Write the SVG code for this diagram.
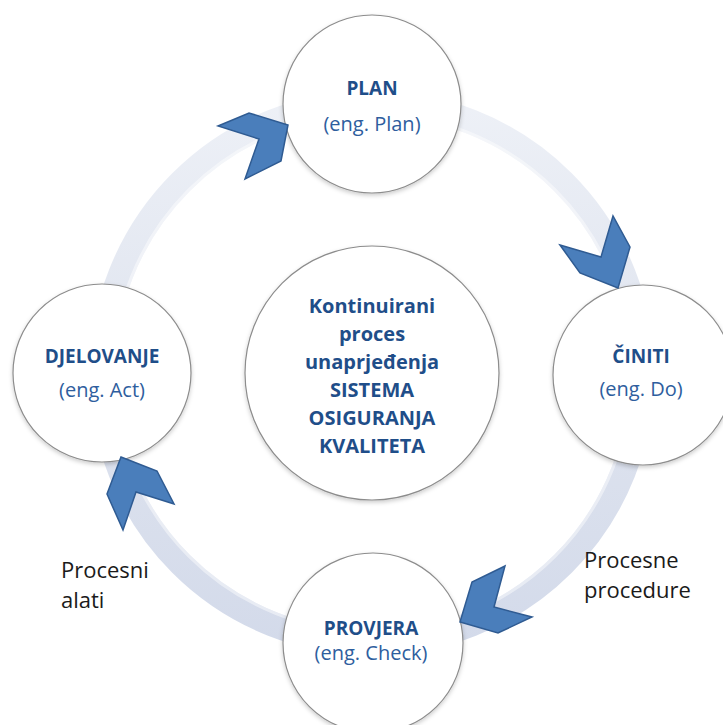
<svg xmlns="http://www.w3.org/2000/svg" width="723" height="725" viewBox="0 0 723 725">
<defs>
  <linearGradient id="ringGrad" gradientUnits="userSpaceOnUse" x1="0" y1="90" x2="0" y2="650">
    <stop offset="0" stop-color="#eef1f7"/>
    <stop offset="0.5" stop-color="#dfe4ef"/>
    <stop offset="1" stop-color="#d3daea"/>
  </linearGradient>
  <filter id="sh" x="-20%" y="-20%" width="140%" height="140%">
    <feDropShadow dx="0" dy="2" stdDeviation="2" flood-color="#000" flood-opacity="0.2"/>
  </filter>
  <style>
    .node { fill: #ffffff; stroke: #8c8c8c; stroke-width: 1.2; filter: url(#sh); }
    .t-b { font-family: "Open Sans", "Noto Sans", sans-serif; font-weight: 700; font-size: 19px; fill: #1f4e89; text-anchor: middle; }
    .t-r { font-family: "Open Sans", "Noto Sans", sans-serif; font-size: 20px; fill: #2e5e9e; text-anchor: middle; }
    .t-c { font-family: "Open Sans", "Noto Sans", sans-serif; font-weight: 700; font-size: 20px; fill: #1f4e89; text-anchor: middle; }
    .lbl { font-family: "Open Sans", "Noto Sans", sans-serif; font-size: 22px; fill: #1a1a1a; }
    .chev { fill: #4a7ebb; stroke: #2f5b92; stroke-width: 1.5; stroke-linejoin: miter; }
  </style>
</defs>
<rect width="723" height="725" fill="#ffffff"/>
<g id="connectors">
  <circle cx="372" cy="373" r="270" fill="none" stroke="url(#ringGrad)" stroke-width="25"/>
  <circle cx="372" cy="373" r="259" fill="none" stroke="#ffffff" stroke-opacity="0.45" stroke-width="3"/>
</g>
<g id="center">
  <circle class="node" cx="372" cy="373" r="127"/>
  <text class="t-c" x="372" y="313">Kontinuirani</text>
  <text class="t-c" x="372" y="341">proces</text>
  <text class="t-c" x="372" y="369">unaprjeđenja</text>
  <text class="t-c" x="372" y="397">SISTEMA</text>
  <text class="t-c" x="372" y="425">OSIGURANJA</text>
  <text class="t-c" x="372" y="453">KVALITETA</text>
</g>
<g id="plan">
  <circle class="node" cx="372" cy="104" r="89"/>
  <text class="t-b" x="372" y="95">PLAN</text>
  <text class="t-r" x="372" y="131">(eng. Plan)</text>
</g>
<g id="ciniti">
  <circle class="node" cx="643" cy="375" r="90"/>
  <text class="t-b" x="641" y="363">ČINITI</text>
  <text class="t-r" x="641" y="396">(eng. Do)</text>
</g>
<g id="provjera">
  <circle class="node" cx="373" cy="643" r="90"/>
  <text class="t-b" x="371" y="635">PROVJERA</text>
  <text class="t-r" x="371" y="660">(eng. Check)</text>
</g>
<g id="djelovanje">
  <circle class="node" cx="102" cy="373" r="89"/>
  <text class="t-b" x="102" y="363">DJELOVANJE</text>
  <text class="t-r" x="102" y="397">(eng. Act)</text>
</g>
<g id="arrowheads">
  <polygon class="chev" points="218,126 249,113 288,125 281,161 245,179 259,139"/>
  <polygon class="chev" points="560,245 601,257 613,216 630,247 618,288 580,273"/>
  <polygon class="chev" points="505,566 472,582 460,622 498,633 532,617 494,607"/>
  <polygon class="chev" points="121,457 157,471 174,504 136,492 123,530 107,494"/>
</g>
<g id="labels">
  <text class="lbl" x="61" y="578">Procesni</text>
  <text class="lbl" x="61" y="608">alati</text>
  <text class="lbl" x="584" y="568">Procesne</text>
  <text class="lbl" x="584" y="598">procedure</text>
</g>
</svg>
